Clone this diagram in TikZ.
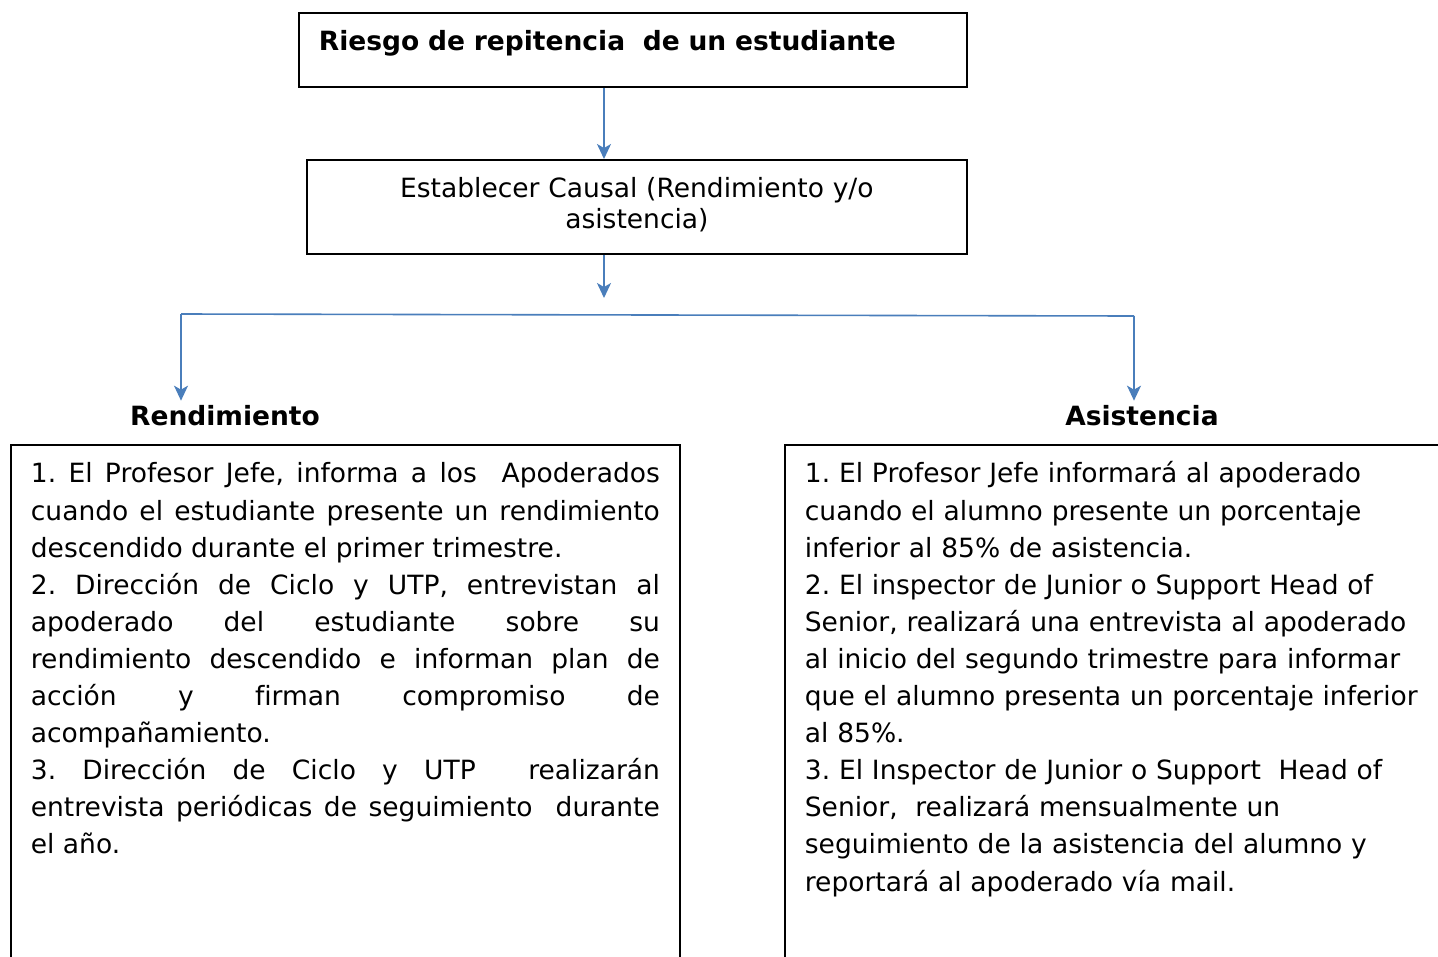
\documentclass[tikz,border=0pt]{standalone}
\usepackage{fontspec}
\setmainfont{DejaVu Sans}[Ligatures=NoCommon]
\usetikzlibrary{arrows.meta}
\definecolor{azul}{RGB}{74,126,187}
\frenchspacing
\tikzset{
  caja/.style={draw=black, line width=1.8pt, inner ysep=0pt, inner xsep=20pt, anchor=north west, font=\fontsize{26.5}{37.1}\selectfont},
  flecha/.style={draw=azul, line width=1.6pt, -{Stealth[length=15pt,width=14pt,inset=4pt]}},
  linea/.style={draw=azul, line width=1.6pt},
  titulo/.style={anchor=base, inner sep=4pt, font=\fontsize{26.5}{32}\selectfont\bfseries}
}
\begin{document}
\begin{tikzpicture}[x=1pt,y=-1pt]
    \useasboundingbox (0,0) rectangle (1438,956);
    %Riesgo
    \node[caja, text width=628pt, align=left, text height=38pt, text depth=36pt, font=\fontsize{26.5}{32}\selectfont\bfseries] (riesgo) at (298,12) {Riesgo de repitencia\ \ de un estudiante};
    %Causal
    \node[caja, text width=620pt, align=center, text height=38pt, text depth=56pt, font=\fontsize{26.5}{31}\selectfont] (causal) at (306,159) {Establecer Causal (Rendimiento y/o\\asistencia)};
    %Ramas
    \coordinate (split) at (604,298);
    \coordinate (izq) at (181,314);
    \coordinate (der) at (1134,316);
    \draw[flecha] (riesgo.south -| split) -- (causal.north -| split);
    \draw[flecha] (causal.south -| split) -- (split);
    \draw[linea] (izq) -- (der);
    \node[titulo] (rend) at (225,425) {Rendimiento};
    \node[titulo] (asis) at (1142,425) {Asistencia};
    \draw[flecha] (izq) -- (izq |- rend.north);
    \draw[flecha] (der) -- (der |- asis.north);
    %Rendimiento
    \node[caja, text width=629pt, align=justify, text height=38pt, text depth=520pt] (cajarend) at (10,444) {\tolerance=10000\hbadness=10000\relax
      1. El Profesor Jefe, informa a los\ \ Apoderados\linebreak
      cuando el estudiante presente un rendimiento\linebreak
      descendido durante el primer trimestre.\par
      2. Dirección de Ciclo y UTP, entrevistan al\linebreak
      apoderado del estudiante sobre su\linebreak
      rendimiento descendido e informan plan de\linebreak
      acción y firman compromiso de\linebreak
      acompañamiento.\par
      3. Dirección de Ciclo y UTP\ \ realizarán\linebreak
      entrevista periódicas de seguimiento\ \ durante\linebreak
      el año.};
    %Asistencia
    \node[caja, text width=640pt, align=left, text height=38pt, text depth=520pt] (cajaasis) at (784,444) {1. El Profesor Jefe informará al apoderado\\
      cuando el alumno presente un porcentaje\\
      inferior al 85\% de asistencia.\\
      2. El inspector de Junior o Support Head of\\
      Senior, realizará una entrevista al apoderado\\
      al inicio del segundo trimestre para informar\\
      que el alumno presenta un porcentaje inferior\\
      al 85\%.\\
      3. El Inspector de Junior o Support\ \ Head of\\
      Senior,\ \ realizará mensualmente un\\
      seguimiento de la asistencia del alumno y\\
      reportará al apoderado vía mail.};
\end{tikzpicture}
\end{document}
